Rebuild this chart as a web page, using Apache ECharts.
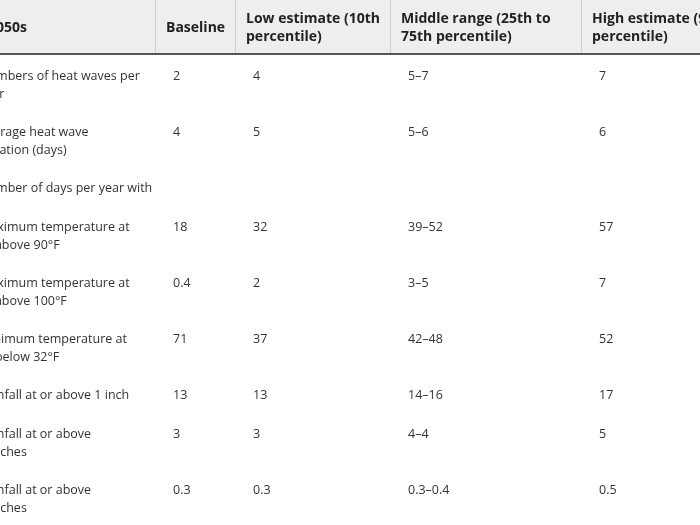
<!DOCTYPE html>
<html>
<head>
<meta charset="utf-8">
<script src="https://cdn.jsdelivr.net/npm/echarts@6/dist/echarts.min.js"></script>
<style>
  html, body { margin: 0; padding: 0; background: #fff; }
  #main { width: 700px; height: 525px; }
</style>
</head>
<body>
<div id="main"></div>
<script>
// table contents
var headers = ['2050s', 'Baseline', 'Low estimate (10th\npercentile)', 'Middle range (25th to\n75th percentile)', 'High estimate (90th\npercentile)'];
var rowLabels = [
  'Numbers of heat waves per\nyear',
  'Average heat wave\nduration (days)',
  'Number of days per year with',
  'Maximum temperature at\nor above 90°F',
  'Maximum temperature at\nor above 100°F',
  'Minimum temperature at\nor below 32°F',
  'Rainfall at or above 1 inch',
  'Rainfall at or above\n2 inches',
  'Rainfall at or above\n3 inches'
];
var baseline = ['2', '4', '', '18', '0.4', '71', '13', '3', '0.3'];
var lowEst = ['4', '5', '', '32', '2', '37', '13', '3', '0.3'];
var midRange = ['5–7', '5–6', '', '39–52', '3–5', '42–48', '14–16', '4–4', '0.3–0.4'];
var highEst = ['7', '6', '', '57', '7', '52', '17', '5', '0.5'];

var chartDom = document.getElementById('main');
var myChart = echarts.init(chartDom, null, { renderer: 'canvas' });

var font = '"Open Sans", "Noto Sans", sans-serif';
var colLeft = [-21, 155, 235, 390, 581];   // column left borders (first one cut off)
var headerPad = 11;
var cellPad = 18;
var headerH = 53;
var lineH = 18;
var elements = [];

// header background + borders
elements.push({ type: 'rect', shape: { x: 0, y: 0, width: 700, height: headerH }, style: { fill: '#eeeeee' } });
for (var c = 1; c < colLeft.length; c++) {
  elements.push({ type: 'line', shape: { x1: colLeft[c] + 0.5, y1: 0, x2: colLeft[c] + 0.5, y2: headerH }, style: { stroke: '#cfcfcf', lineWidth: 1 } });
}
elements.push({ type: 'rect', shape: { x: 0, y: headerH, width: 700, height: 2 }, style: { fill: '#555555' } });

// header texts
headers.forEach(function (h, i) {
  var x = i === 0 ? -12 : colLeft[i] + headerPad;
  elements.push({
    type: 'text', x: x, y: 28,
    style: { text: h, fill: '#222', fontFamily: font, fontWeight: 'bold', fontSize: 14, lineHeight: 18, verticalAlign: 'middle' }
  });
});

// body rows
var cols = [rowLabels, baseline, lowEst, midRange, highEst];
var y = 67;
rowLabels.forEach(function (lbl, r) {
  var nLines = lbl.split('\n').length;
  cols.forEach(function (col, i) {
    var x = i === 0 ? colLeft[0] : colLeft[i] + cellPad;
    elements.push({
      type: 'text', x: x, y: y,
      style: { text: col[r], fill: '#333', fontFamily: font, fontSize: 12.5, lineHeight: lineH, verticalAlign: 'top' }
    });
  });
  y += nLines === 2 ? 56 : 39;
});

var option = {
  backgroundColor: '#ffffff',
  animation: false,
  graphic: { elements: elements }
};

option && myChart.setOption(option);
</script>
</body>
</html>
